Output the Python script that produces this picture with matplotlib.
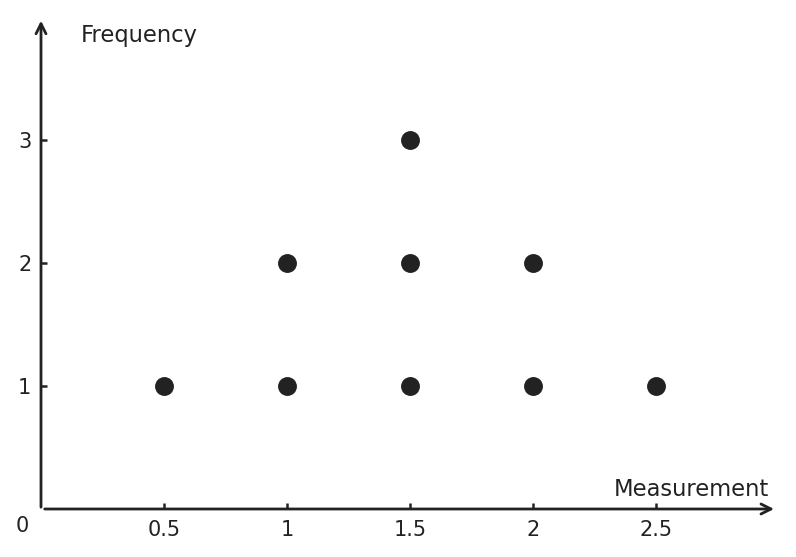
import matplotlib.pyplot as plt

# dot plot data: one dot per observation, stacked by count
measurements = [0.5, 1, 1.5, 2, 2.5]
frequencies = [1, 2, 3, 2, 1]
x_ticks = [0.5, 1, 1.5, 2, 2.5]
x_tick_labels = ['0.5', '1', '1.5', '2', '2.5']
y_ticks = [1, 2, 3]

ink = '#222222'

xs, ys = [], []
for m, f in zip(measurements, frequencies):
    for k in range(1, f + 1):
        xs.append(m)
        ys.append(k)

fig = plt.figure(figsize=(7.96, 5.57), dpi=100)
ax = fig.add_axes([0, 0, 1, 1])
ax.set_xlim(-41 / 246, 755 / 246)
ax.set_ylim(-48 / 123, 509 / 123)

ax.scatter(xs, ys, s=185, color=ink, zorder=3, linewidths=0)

# axes through origin, drawn as arrows
for side in ['top', 'right']:
    ax.spines[side].set_visible(False)
for side in ['left', 'bottom']:
    ax.spines[side].set_position(('data', 0))
    ax.spines[side].set_color('none')

arrow = dict(arrowstyle='->', color=ink, lw=2, mutation_scale=18, shrinkA=0, shrinkB=0)
ax.annotate('', xy=(2.98, 0), xytext=(0.015, 0), arrowprops=arrow)
ax.annotate('', xy=(0, 3.97), xytext=(0, 0.015), arrowprops=arrow)

ax.set_xticks(x_ticks)
ax.set_xticklabels(x_tick_labels)
ax.set_yticks(y_ticks)
ax.tick_params(direction='in', length=4, width=1.8, color=ink,
               labelcolor=ink, labelsize=15)
ax.tick_params(axis='x', pad=8)
ax.tick_params(axis='y', pad=7)

ax.text(-0.075, -0.14, '0', fontsize=15, color=ink, ha='center', va='center')
ax.text(0.163, 3.85, 'Frequency', fontsize=16.3, color=ink, ha='left', va='center')
ax.text(2.96, 0.155, 'Measurement', fontsize=16.3, color=ink, ha='right', va='center')

plt.savefig('out.png', dpi=100)
